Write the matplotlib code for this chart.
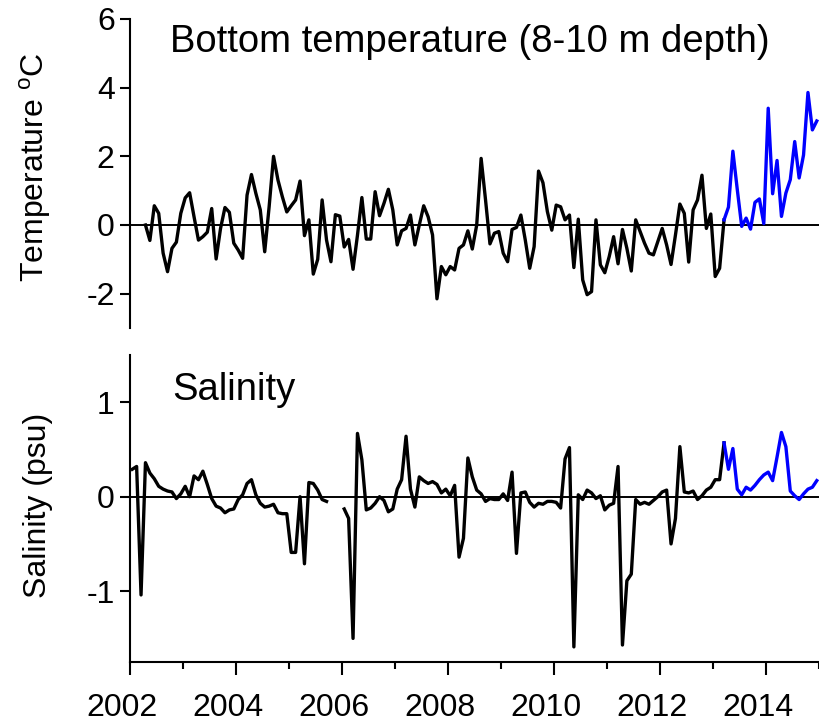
import numpy as np
import matplotlib
matplotlib.use("Agg")
import matplotlib.pyplot as plt
import matplotlib.transforms as mtransforms
from matplotlib.ticker import MultipleLocator

plt.rcParams['font.family'] = ['Liberation Sans', 'DejaVu Sans']
plt.rcParams['axes.unicode_minus'] = False
plt.rcParams['mathtext.fontset'] = 'custom'
plt.rcParams['mathtext.rm'] = 'Liberation Sans'

# monthly bottom temperature anomaly (deg C), from April 2002
temp = [0.0, -0.45, 0.56, 0.34, -0.82, -1.36, -0.68, -0.50, 0.34, 0.79,
        0.94, 0.24, -0.44, -0.34, -0.21, 0.48, -0.99, -0.1, 0.51, 0.37,
        -0.53, -0.73, -0.97, 0.87, 1.47, 0.92, 0.44, -0.78, 0.53, 2.0,
        1.31, 0.82, 0.38, 0.56, 0.73, 1.28, -0.31, 0.15, -1.43, -1.0,
        0.73, -0.44, -1.07, 0.3, 0.26, -0.64, -0.42, -1.29, -0.3, 0.80,
        -0.41, -0.41, 0.97, 0.27, 0.63, 1.04, 0.44, -0.58, -0.17, -0.1,
        0.29, -0.58, 0.0, 0.56, 0.24, -0.29, -2.15, -1.21, -1.45, -1.21,
        -1.31, -0.68, -0.58, -0.17, -0.70, 0.0, 1.94, 0.73, -0.55, -0.24,
        -0.19, -0.82, -1.07, -0.13, -0.07, 0.29, -0.44, -1.26, -0.63, 1.57,
        1.23, 0.39, -0.15, 0.58, 0.53, 0.15, 0.29, -1.24, 0.17, -1.60,
        -2.03, -1.94, 0.15, -1.16, -1.39, -0.92, -0.34, -1.13, -0.13, -0.68,
        -1.34, 0.15, -0.19, -0.53, -0.82, -0.87, -0.48, -0.1, -0.58, -1.15,
        -0.29, 0.61, 0.34, -1.08, 0.44, 0.73, 1.45, -0.1, 0.32, -1.5,
        -1.26, 0.15, 0.52, 2.15, 1.03, -0.04, 0.2, -0.12, 0.66, 0.76,
        0.04, 3.40, 0.91, 1.88, 0.25, 0.93, 1.32, 2.43, 1.37, 2.04,
        3.86, 2.77, 3.03]

# monthly salinity anomaly (psu), from January 2002 (nan = no data)
nan = np.nan
sal = [0.29, 0.32, -1.04, 0.36, 0.25, 0.19, 0.11, 0.08, 0.06, 0.05,
       -0.02, 0.03, 0.11, 0.0, 0.22, 0.18, 0.27, 0.13, -0.02, -0.10,
       -0.12, -0.17, -0.14, -0.13, -0.03, 0.02, 0.14, 0.18, 0.02, -0.07,
       -0.11, -0.10, -0.08, -0.17, -0.18, -0.18, -0.59, -0.59, 0.0, -0.71,
       0.15, 0.14, 0.07, -0.03, -0.05, nan, nan, nan, -0.13, -0.23,
       -1.50, 0.67, 0.39, -0.14, -0.12, -0.07, 0.0, -0.04, -0.16, -0.13,
       0.08, 0.18, 0.64, 0.08, -0.11, 0.21, 0.17, 0.14, 0.16, 0.13,
       0.04, 0.08, 0.01, 0.12, -0.64, -0.44, 0.41, 0.21, 0.07, 0.03,
       -0.05, -0.02, -0.03, -0.03, 0.03, -0.04, 0.26, -0.60, 0.04, 0.05,
       -0.06, -0.11, -0.07, -0.08, -0.05, -0.05, -0.06, -0.12, 0.40, 0.52,
       -1.59, 0.02, -0.03, 0.07, 0.04, -0.02, 0.01, -0.14, -0.09, -0.07,
       0.32, -1.57, -0.89, -0.82, -0.03, -0.08, -0.06, -0.08, -0.04, 0.0,
       0.05, 0.07, -0.50, -0.23, 0.53, 0.05, 0.04, 0.06, -0.03, 0.01,
       0.07, 0.10, 0.18, 0.18, 0.57, 0.29, 0.51, 0.08, 0.02, 0.10,
       0.07, 0.12, 0.18, 0.23, 0.26, 0.17, 0.42, 0.68, 0.53, 0.06,
       0.01, -0.03, 0.03, 0.08, 0.10, 0.17]

temp_start = 3     # months after Jan 2002
sal_start = 0
blue_from = 134    # March 2013, recent data drawn in blue
year_ticks = [2002, 2004, 2006, 2008, 2010, 2012, 2014]


def month_to_year(m):
    return 2002 + (np.asarray(m) + 0.5) / 12.0


def draw_series(ax, start, vals):
    vals = np.asarray(vals, dtype=float)
    months = np.arange(start, start + len(vals))
    t = month_to_year(months)
    old = months <= blue_from
    new = months >= blue_from
    ax.plot(t[old], vals[old], color='black', lw=2.4, zorder=3)
    ax.plot(t[new], vals[new], color='#0000ff', lw=2.4, zorder=3)
    ax.axhline(0, color='black', lw=1.4, zorder=2)


fig = plt.figure(figsize=(8.19, 7.28), dpi=100)
ax1 = fig.add_axes([130/819, 1-328/728, 689/819, 309/728])
ax2 = fig.add_axes([130/819, 1-662/728, 689/819, 307/728])

draw_series(ax1, temp_start, temp)
draw_series(ax2, sal_start, sal)

for ax in (ax1, ax2):
    ax.set_xlim(2002, 2015)
    ax.spines['top'].set_visible(False)
    ax.spines['right'].set_visible(False)
    for s in ax.spines.values():
        s.set_linewidth(1.5)
    ax.tick_params(axis='y', direction='out', length=7, width=1.5,
                   labelsize=23, pad=4)

ax1.spines['bottom'].set_visible(False)
ax1.set_xticks([])
ax1.set_ylim(-3, 6)
ax1.set_yticks([-2, 0, 2, 4, 6])

ax2.set_ylim(-1.75, 1.5)
ax2.set_yticks([-1, 0, 1])
ax2.set_xticks(year_ticks)
ax2.xaxis.set_minor_locator(MultipleLocator(1))
ax2.tick_params(axis='x', which='major', direction='out', length=9,
                width=1.5, labelsize=23, pad=13)
ax2.tick_params(axis='x', which='minor', direction='out', length=5,
                width=1.5)

ax1.set_ylabel('Temperature $^{\\mathrm{o}}$C', fontsize=23)
ax1.yaxis.set_label_coords(-0.112, 0.52)
ax2.set_ylabel('Salinity (psu)', fontsize=23)
ax2.yaxis.set_label_coords(-0.112, 0.51)

ax1.text(0.058, 0.926, 'Bottom temperature (8-10 m depth)',
         transform=ax1.transAxes, fontsize=27.5, va='center')
ax2.text(0.061, 0.886, 'Salinity', transform=ax2.transAxes,
         fontsize=27.5, va='center')

# year labels in the original sit a little left of their ticks
fig.canvas.draw()
shift = mtransforms.ScaledTranslation(-8/100, 0, fig.dpi_scale_trans)
for lbl in ax2.get_xticklabels():
    lbl.set_transform(lbl.get_transform() + shift)

fig.savefig('out.png', dpi=100)
